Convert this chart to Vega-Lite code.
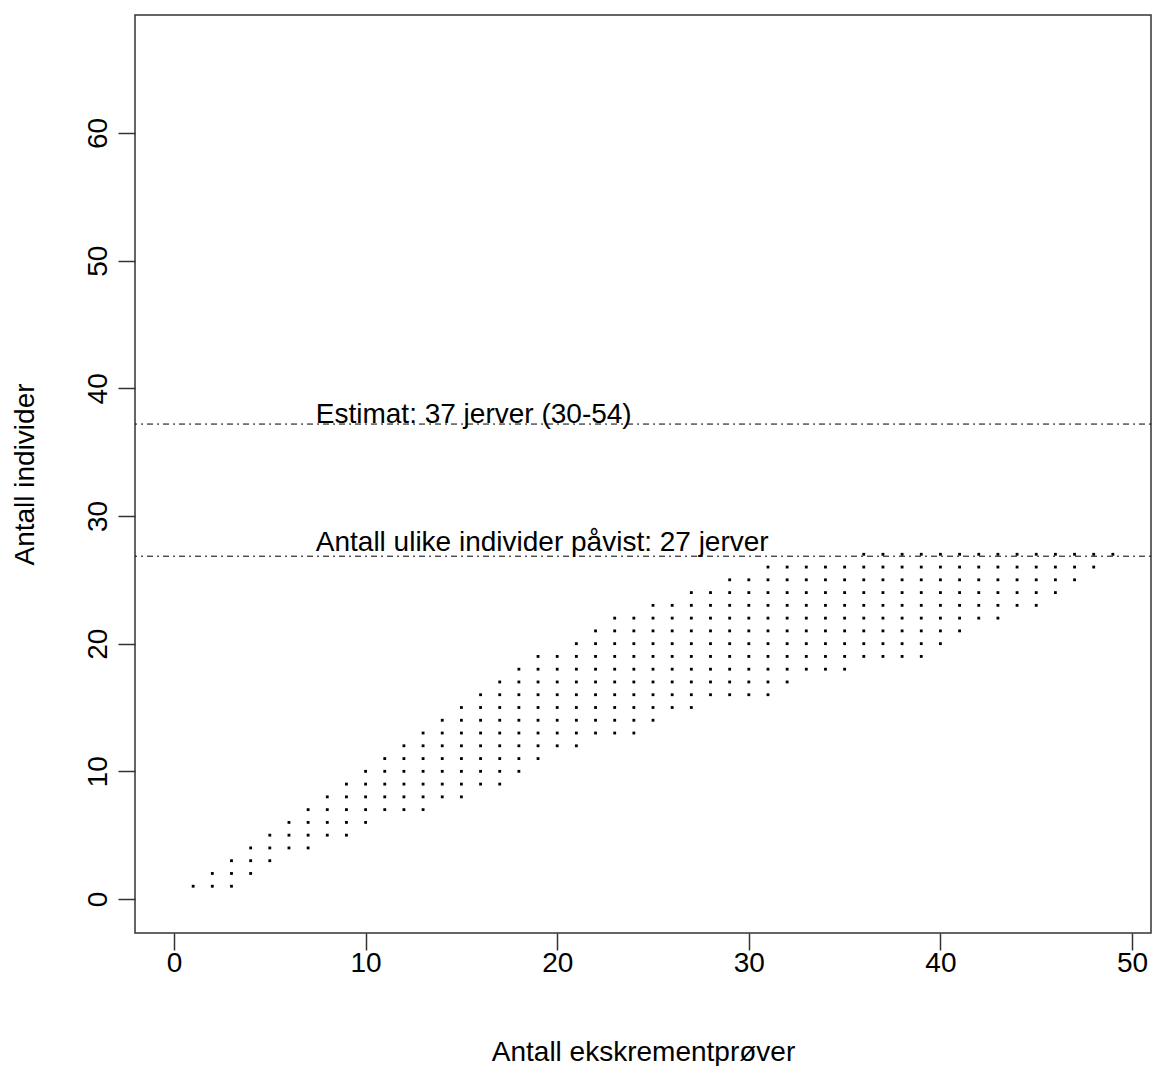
{
  "$schema": "https://vega.github.io/schema/vega-lite/v6.json",
  "width": 1016,
  "height": 918,
  "autosize": {"type": "none"},
  "padding": {"left": 135, "top": 15, "right": 1, "bottom": 133},
  "background": "white",
  "config": {
    "view": {"stroke": "#333333", "strokeWidth": 1.5},
    "font": "Liberation Sans"
  },
  "layer": [
    {
      "data": {"values": [
        {"x":1,"y":1},
        {"x":2,"y":1},{"x":2,"y":2},
        {"x":3,"y":1},{"x":3,"y":2},{"x":3,"y":3},
        {"x":4,"y":2},{"x":4,"y":3},{"x":4,"y":4},
        {"x":5,"y":3},{"x":5,"y":4},{"x":5,"y":5},
        {"x":6,"y":4},{"x":6,"y":5},{"x":6,"y":6},
        {"x":7,"y":4},{"x":7,"y":5},{"x":7,"y":6},{"x":7,"y":7},
        {"x":8,"y":5},{"x":8,"y":6},{"x":8,"y":7},{"x":8,"y":8},
        {"x":9,"y":5},{"x":9,"y":6},{"x":9,"y":7},{"x":9,"y":8},{"x":9,"y":9},
        {"x":10,"y":6},{"x":10,"y":7},{"x":10,"y":8},{"x":10,"y":9},{"x":10,"y":10},
        {"x":11,"y":7},{"x":11,"y":8},{"x":11,"y":9},{"x":11,"y":10},{"x":11,"y":11},
        {"x":12,"y":7},{"x":12,"y":8},{"x":12,"y":9},{"x":12,"y":10},{"x":12,"y":11},{"x":12,"y":12},
        {"x":13,"y":7},{"x":13,"y":8},{"x":13,"y":9},{"x":13,"y":10},{"x":13,"y":11},{"x":13,"y":12},{"x":13,"y":13},
        {"x":14,"y":8},{"x":14,"y":9},{"x":14,"y":10},{"x":14,"y":11},{"x":14,"y":12},{"x":14,"y":13},{"x":14,"y":14},
        {"x":15,"y":8},{"x":15,"y":9},{"x":15,"y":10},{"x":15,"y":11},{"x":15,"y":12},{"x":15,"y":13},{"x":15,"y":14},{"x":15,"y":15},
        {"x":16,"y":9},{"x":16,"y":10},{"x":16,"y":11},{"x":16,"y":12},{"x":16,"y":13},{"x":16,"y":14},{"x":16,"y":15},{"x":16,"y":16},
        {"x":17,"y":9},{"x":17,"y":10},{"x":17,"y":11},{"x":17,"y":12},{"x":17,"y":13},{"x":17,"y":14},{"x":17,"y":15},{"x":17,"y":16},{"x":17,"y":17},
        {"x":18,"y":10},{"x":18,"y":11},{"x":18,"y":12},{"x":18,"y":13},{"x":18,"y":14},{"x":18,"y":15},{"x":18,"y":16},{"x":18,"y":17},{"x":18,"y":18},
        {"x":19,"y":11},{"x":19,"y":12},{"x":19,"y":13},{"x":19,"y":14},{"x":19,"y":15},{"x":19,"y":16},{"x":19,"y":17},{"x":19,"y":18},{"x":19,"y":19},
        {"x":20,"y":12},{"x":20,"y":13},{"x":20,"y":14},{"x":20,"y":15},{"x":20,"y":16},{"x":20,"y":17},{"x":20,"y":18},{"x":20,"y":19},
        {"x":21,"y":12},{"x":21,"y":13},{"x":21,"y":14},{"x":21,"y":15},{"x":21,"y":16},{"x":21,"y":17},{"x":21,"y":18},{"x":21,"y":19},{"x":21,"y":20},
        {"x":22,"y":13},{"x":22,"y":14},{"x":22,"y":15},{"x":22,"y":16},{"x":22,"y":17},{"x":22,"y":18},{"x":22,"y":19},{"x":22,"y":20},{"x":22,"y":21},
        {"x":23,"y":13},{"x":23,"y":14},{"x":23,"y":15},{"x":23,"y":16},{"x":23,"y":17},{"x":23,"y":18},{"x":23,"y":19},{"x":23,"y":20},{"x":23,"y":21},{"x":23,"y":22},
        {"x":24,"y":13},{"x":24,"y":14},{"x":24,"y":15},{"x":24,"y":16},{"x":24,"y":17},{"x":24,"y":18},{"x":24,"y":19},{"x":24,"y":20},{"x":24,"y":21},{"x":24,"y":22},
        {"x":25,"y":14},{"x":25,"y":15},{"x":25,"y":16},{"x":25,"y":17},{"x":25,"y":18},{"x":25,"y":19},{"x":25,"y":20},{"x":25,"y":21},{"x":25,"y":22},{"x":25,"y":23},
        {"x":26,"y":15},{"x":26,"y":16},{"x":26,"y":17},{"x":26,"y":18},{"x":26,"y":19},{"x":26,"y":20},{"x":26,"y":21},{"x":26,"y":22},{"x":26,"y":23},
        {"x":27,"y":15},{"x":27,"y":16},{"x":27,"y":17},{"x":27,"y":18},{"x":27,"y":19},{"x":27,"y":20},{"x":27,"y":21},{"x":27,"y":22},{"x":27,"y":23},{"x":27,"y":24},
        {"x":28,"y":16},{"x":28,"y":17},{"x":28,"y":18},{"x":28,"y":19},{"x":28,"y":20},{"x":28,"y":21},{"x":28,"y":22},{"x":28,"y":23},{"x":28,"y":24},
        {"x":29,"y":16},{"x":29,"y":17},{"x":29,"y":18},{"x":29,"y":19},{"x":29,"y":20},{"x":29,"y":21},{"x":29,"y":22},{"x":29,"y":23},{"x":29,"y":24},{"x":29,"y":25},
        {"x":30,"y":16},{"x":30,"y":17},{"x":30,"y":18},{"x":30,"y":19},{"x":30,"y":20},{"x":30,"y":21},{"x":30,"y":22},{"x":30,"y":23},{"x":30,"y":24},{"x":30,"y":25},
        {"x":31,"y":16},{"x":31,"y":17},{"x":31,"y":18},{"x":31,"y":19},{"x":31,"y":20},{"x":31,"y":21},{"x":31,"y":22},{"x":31,"y":23},{"x":31,"y":24},{"x":31,"y":25},{"x":31,"y":26},
        {"x":32,"y":17},{"x":32,"y":18},{"x":32,"y":19},{"x":32,"y":20},{"x":32,"y":21},{"x":32,"y":22},{"x":32,"y":23},{"x":32,"y":24},{"x":32,"y":25},{"x":32,"y":26},
        {"x":33,"y":18},{"x":33,"y":19},{"x":33,"y":20},{"x":33,"y":21},{"x":33,"y":22},{"x":33,"y":23},{"x":33,"y":24},{"x":33,"y":25},{"x":33,"y":26},
        {"x":34,"y":18},{"x":34,"y":19},{"x":34,"y":20},{"x":34,"y":21},{"x":34,"y":22},{"x":34,"y":23},{"x":34,"y":24},{"x":34,"y":25},{"x":34,"y":26},
        {"x":35,"y":18},{"x":35,"y":19},{"x":35,"y":20},{"x":35,"y":21},{"x":35,"y":22},{"x":35,"y":23},{"x":35,"y":24},{"x":35,"y":25},{"x":35,"y":26},
        {"x":36,"y":19},{"x":36,"y":20},{"x":36,"y":21},{"x":36,"y":22},{"x":36,"y":23},{"x":36,"y":24},{"x":36,"y":25},{"x":36,"y":26},{"x":36,"y":27},
        {"x":37,"y":19},{"x":37,"y":20},{"x":37,"y":21},{"x":37,"y":22},{"x":37,"y":23},{"x":37,"y":24},{"x":37,"y":25},{"x":37,"y":26},{"x":37,"y":27},
        {"x":38,"y":19},{"x":38,"y":20},{"x":38,"y":21},{"x":38,"y":22},{"x":38,"y":23},{"x":38,"y":24},{"x":38,"y":25},{"x":38,"y":26},{"x":38,"y":27},
        {"x":39,"y":19},{"x":39,"y":20},{"x":39,"y":21},{"x":39,"y":22},{"x":39,"y":23},{"x":39,"y":24},{"x":39,"y":25},{"x":39,"y":26},{"x":39,"y":27},
        {"x":40,"y":20},{"x":40,"y":21},{"x":40,"y":22},{"x":40,"y":23},{"x":40,"y":24},{"x":40,"y":25},{"x":40,"y":26},{"x":40,"y":27},
        {"x":41,"y":21},{"x":41,"y":22},{"x":41,"y":23},{"x":41,"y":24},{"x":41,"y":25},{"x":41,"y":26},{"x":41,"y":27},
        {"x":42,"y":22},{"x":42,"y":23},{"x":42,"y":24},{"x":42,"y":25},{"x":42,"y":26},{"x":42,"y":27},
        {"x":43,"y":22},{"x":43,"y":23},{"x":43,"y":24},{"x":43,"y":25},{"x":43,"y":26},{"x":43,"y":27},
        {"x":44,"y":23},{"x":44,"y":24},{"x":44,"y":25},{"x":44,"y":26},{"x":44,"y":27},
        {"x":45,"y":23},{"x":45,"y":24},{"x":45,"y":25},{"x":45,"y":26},{"x":45,"y":27},
        {"x":46,"y":24},{"x":46,"y":25},{"x":46,"y":26},{"x":46,"y":27},
        {"x":47,"y":25},{"x":47,"y":26},{"x":47,"y":27},
        {"x":48,"y":26},{"x":48,"y":27},
        {"x":49,"y":27}
      ]},
      "mark": {"type": "square", "size": 8, "color": "black", "opacity": 1, "filled": true},
      "encoding": {
        "x": {
          "field": "x", "type": "quantitative", "title": "Antall ekskrementprøver",
          "scale": {"domain": [-2.035, 50.99], "nice": false, "zero": false},
          "axis": {
            "values": [0, 10, 20, 30, 40, 50],
            "domain": false, "grid": false,
            "tickSize": 17, "tickColor": "#333333", "tickWidth": 1.5,
            "labelFont": "Liberation Sans", "labelFontSize": 28, "labelColor": "black",
            "labelBaseline": "alphabetic", "labelPadding": 21,
            "titleFont": "Liberation Sans", "titleFontSize": 28, "titleFontWeight": "normal", "titleColor": "black",
            "titleBaseline": "alphabetic", "titleY": 127, "titleX": 508
          }
        },
        "y": {
          "field": "y", "type": "quantitative", "title": "Antall individer",
          "scale": {"domain": [-2.663, 69.24], "nice": false, "zero": false},
          "axis": {
            "values": [0, 10, 20, 30, 40, 50, 60],
            "domain": false, "grid": false,
            "tickSize": 17, "tickColor": "#333333", "tickWidth": 1.5,
            "labelFont": "Liberation Sans", "labelFontSize": 28, "labelColor": "black",
            "labelAngle": 270, "labelAlign": "center", "labelBaseline": "alphabetic", "labelPadding": 12,
            "titleFont": "Liberation Sans", "titleFontSize": 28, "titleFontWeight": "normal", "titleColor": "black",
            "titleAngle": 270, "titleAlign": "center", "titleBaseline": "alphabetic", "titleX": -102, "titleY": 459
          }
        }
      }
    },
    {
      "data": {"values": [{"y": 37.2}, {"y": 26.85}]},
      "mark": {"type": "rule", "color": "black", "strokeWidth": 1, "strokeDash": [2, 4, 6, 4]},
      "encoding": {
        "y": {"field": "y", "type": "quantitative", "title": "Antall individer"}
      }
    },
    {
      "data": {"values": [
        {"x": 7.4, "y": 38, "label": "Estimat: 37 jerver (30-54)"},
        {"x": 7.4, "y": 28, "label": "Antall ulike individer påvist: 27 jerver"}
      ]},
      "mark": {"type": "text", "align": "left", "baseline": "alphabetic", "dy": 9, "fontSize": 28, "font": "Liberation Sans", "color": "black"},
      "encoding": {
        "x": {"field": "x", "type": "quantitative", "title": "Antall ekskrementprøver"},
        "y": {"field": "y", "type": "quantitative", "title": "Antall individer"},
        "text": {"field": "label"}
      }
    }
  ]
}
